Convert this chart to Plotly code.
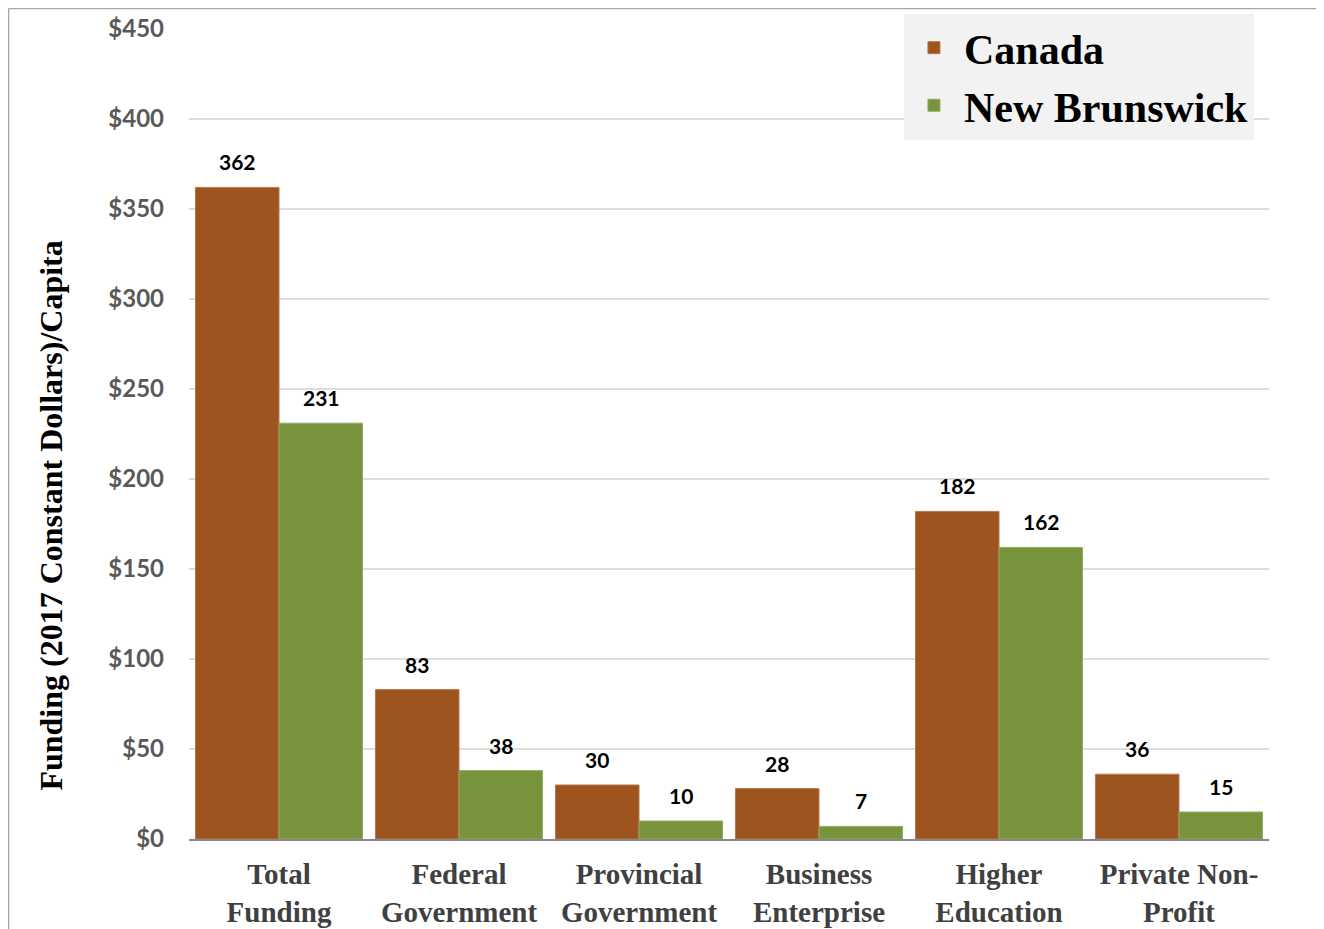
import plotly.graph_objects as go

categories = ["Total<br>Funding", "Federal<br>Government", "Provincial<br>Government",
              "Business<br>Enterprise", "Higher<br>Education", "Private Non-<br>Profit"]
canada = [362, 83, 30, 28, 182, 36]
new_brunswick = [231, 38, 10, 7, 162, 15]
tick_vals = [0, 50, 100, 150, 200, 250, 300, 350, 400, 450]
tick_text = ["$0", "$50", "$100", "$150", "$200", "$250", "$300", "$350", "$400", "$450"]

CANADA_COLOR = "#9E541E"
NB_COLOR = "#77933C"

fig = go.Figure()
fig.add_trace(go.Bar(name="Canada", x=categories, y=canada,
                     marker=dict(color=CANADA_COLOR, line=dict(color="#B8774A", width=1))))
fig.add_trace(go.Bar(name="New Brunswick", x=categories, y=new_brunswick,
                     marker=dict(color=NB_COLOR, line=dict(color="#93AC62", width=1))))

annotations = []
for series, shift in ((canada, -42), (new_brunswick, 42)):
    for c, v in zip(categories, series):
        annotations.append(dict(x=c, y=v, xref="x", yref="y", text=str(v), showarrow=False,
                                xshift=shift, yshift=11, yanchor="bottom",
                                font=dict(family="Lato", size=21, color="#000000", weight="bold")))

annotations.append(dict(text="Funding (2017 Constant Dollars)/Capita", textangle=-90,
                        xref="paper", yref="paper", x=-0.1280, y=0.3990,
                        xanchor="center", yanchor="middle", showarrow=False,
                        font=dict(family="Liberation Serif", size=32, color="#000000", weight="bold")))

fig.update_layout(
    width=1316, height=921,
    margin=dict(l=181, r=55, t=21, b=90, autoexpand=False),
    paper_bgcolor="white", plot_bgcolor="white",
    barmode="group", bargap=0.072, bargroupgap=0,
    annotations=annotations,
    legend=dict(x=0.662, y=1.0187, xanchor="left", yanchor="top",
                bgcolor="#F2F2F2", borderwidth=0,
                font=dict(family="Liberation Serif", size=42, color="#000000", weight="bold"),
                itemwidth=50, tracegroupgap=0),
    xaxis=dict(showline=True, linecolor="#878787", linewidth=2, ticks="", automargin=False,
               tickfont=dict(family="Liberation Serif", size=29, color="#404040", weight="bold"),
               ticklabelstandoff=8),
    yaxis=dict(range=[0, 450], tickvals=tick_vals, ticktext=tick_text, automargin=False,
               showgrid=True, gridcolor="#DDDDDD", gridwidth=1.5, zeroline=False,
               tickfont=dict(family="Lato", size=24, color="#595959", weight="bold"),
               ticklabelstandoff=24),
    shapes=[
        dict(type="line", xref="paper", yref="paper", x0=-0.1671, x1=-0.1671, y0=1.0253, y1=-0.2,
             line=dict(color="#A6A6A6", width=1.5)),
        dict(type="line", xref="paper", yref="paper", x0=-0.1671, x1=1.06, y0=1.0253, y1=1.0253,
             line=dict(color="#A6A6A6", width=1.5)),
    ],
)

fig.write_html("out.html")
